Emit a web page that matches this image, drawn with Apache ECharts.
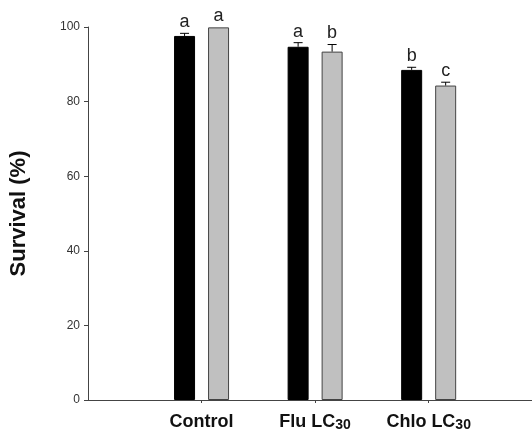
<!DOCTYPE html>
<html>
<head>
<meta charset="utf-8">
<script src="https://cdn.jsdelivr.net/npm/echarts@6/dist/echarts.min.js"></script>
<style>
  html, body { margin: 0; padding: 0; background: #fff; }
  #chart { width: 532px; height: 432px; }
</style>
</head>
<body>
<div id="chart"></div>
<script>
// data
var categories = ['Control', 'Flu LC30', 'Chlo LC30'];
var positions = [1, 2, 3];
var blackValues = [97.6, 94.7, 88.5];
var blackErrors = [0.7, 1.1, 0.7];
var blackLetters = ['a', 'a', 'b'];
var greyValues = [99.9, 93.4, 84.3];
var greyErrors = [0, 1.9, 0.9];
var greyLetters = ['a', 'b', 'c'];
var yTicks = [0, 20, 40, 60, 80, 100];

var barWidth = 21;
var barGapPx = 13;
var half = (barWidth + barGapPx) / 2;

function pairs (vals) {
   return positions.map(function (p, i) { return [p, vals[i]]; });
}
function triples (vals, errs) {
   return positions.map(function (p, i) { return [p, vals[i], errs[i]]; });
}

// error bar (upper half only) + significance letter
function errorItem (offset, letters) {
   return function (params, api) {
      var x = api.value(0), v = api.value(1), e = api.value(2);
      var base = api.coord([x, v]);
      var top = api.coord([x, v + e]);
      var cx = base[0] + offset;
      var children = [];
      if (e > 0) {
         children.push({ type: 'line', shape: { x1: cx, y1: base[1], x2: cx, y2: top[1] }, style: { stroke: '#000', lineWidth: 1 } });
         children.push({ type: 'line', shape: { x1: cx - 4.5, y1: top[1], x2: cx + 4.5, y2: top[1] }, style: { stroke: '#000', lineWidth: 1 } });
      }
      children.push({
         type: 'text',
         style: {
            x: cx, y: top[1] - 2,
            text: letters[params.dataIndex],
            textAlign: 'center', textVerticalAlign: 'bottom',
            font: '18px "Liberation Sans Narrow", "Liberation Sans", sans-serif',
            fill: '#222'
         }
      });
      return { type: 'group', children: children };
   };
}

var myChart = echarts.init(document.getElementById('chart'));
var option = {
   animation: false,
   backgroundColor: '#fff',
   grid: { left: 85, right: 0, top: 27, bottom: 30 },
   xAxis: {
      type: 'value',
      min: 0,
      max: 3.91,
      splitLine: { show: false },
      axisLine: { show: true, lineStyle: { color: '#444', width: 1 } },
      axisTick: { show: true, length: 3, customValues: positions, lineStyle: { color: '#444' } },
      axisLabel: {
         customValues: positions,
         margin: 13,
         formatter: function (v) {
            var name = categories[Math.round(v) - 1] || '';
            return name.replace(/30$/, '{s|30}');
         },
         color: '#111',
         fontFamily: '"Liberation Sans", Arial, sans-serif',
         fontWeight: 'bold',
         fontSize: 18,
         rich: {
            s: { fontSize: 14, fontWeight: 'bold', color: '#111', fontFamily: '"Liberation Sans", Arial, sans-serif', padding: [5, 0, 0, 0] }
         }
      }
   },
   yAxis: {
      type: 'value',
      min: yTicks[0],
      max: yTicks[yTicks.length - 1],
      interval: 20,
      name: 'Survival (%)',
      nameLocation: 'middle',
      nameGap: 58,
      nameTextStyle: { fontSize: 22, fontWeight: 'bold', color: '#111', fontFamily: '"Liberation Sans", Arial, sans-serif' },
      splitLine: { show: false },
      axisLine: { show: true, lineStyle: { color: '#444', width: 1 } },
      axisTick: { show: true, length: 4, lineStyle: { color: '#444' } },
      axisLabel: { color: '#333', fontSize: 12, margin: 8, fontFamily: '"Liberation Sans", Arial, sans-serif' }
   },
   series: [
      {
         type: 'bar',
         data: pairs(blackValues),
         barWidth: barWidth,
         barGap: (barGapPx / barWidth * 100) + '%',
         itemStyle: { color: '#000', borderColor: '#000', borderWidth: 1 }
      },
      {
         type: 'bar',
         data: pairs(greyValues),
         barWidth: barWidth,
         itemStyle: { color: '#c0c0c0', borderColor: '#444', borderWidth: 1 }
      },
      {
         type: 'custom',
         data: triples(blackValues, blackErrors),
         renderItem: errorItem(-half, blackLetters),
         z: 5
      },
      {
         type: 'custom',
         data: triples(greyValues, greyErrors),
         renderItem: errorItem(half, greyLetters),
         z: 5
      }
   ]
};
myChart.setOption(option);
</script>
</body>
</html>
